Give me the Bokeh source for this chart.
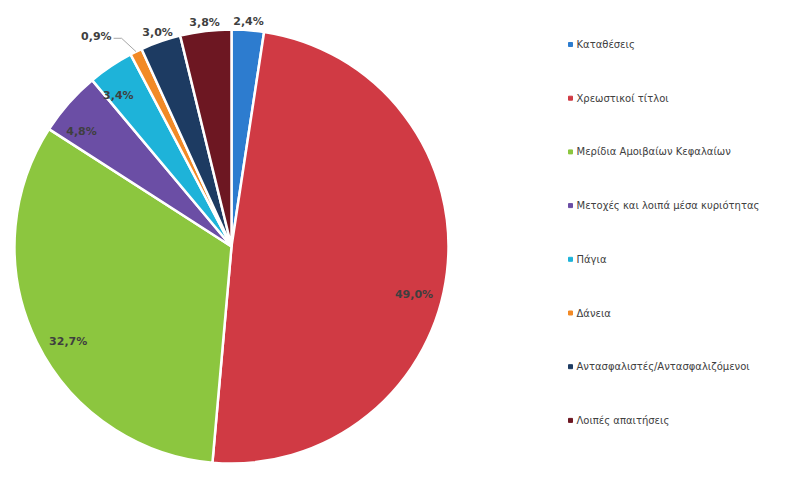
import math
from bokeh.plotting import figure
from bokeh.models import Range1d, ColumnDataSource
from bokeh.core.properties import value
from bokeh.embed import file_html
from bokeh.resources import INLINE

# ---- data ----
categories = [
    "Καταθέσεις",
    "Χρεωστικοί τίτλοι",
    "Μερίδια Αμοιβαίων Κεφαλαίων",
    "Μετοχές και λοιπά μέσα κυριότητας",
    "Πάγια",
    "Δάνεια",
    "Αντασφαλιστές/Αντασφαλιζόμενοι",
    "Λοιπές απαιτήσεις",
]
shares = [2.4, 49.0, 32.7, 4.8, 3.4, 0.9, 3.0, 3.8]
share_labels = ["2,4%", "49,0%", "32,7%", "4,8%", "3,4%", "0,9%", "3,0%", "3,8%"]

# ---- styles / layout ----
colors = ["#2D7CCF", "#D03A44", "#8CC63F", "#6B4EA5", "#1EB3D9", "#F28A26", "#1D3B62", "#6D1722"]
label_kind = ["out", "in", "in", "in", "in", "leader", "out", "out"]
label_nudge_deg = [0, 8, -4, -4, -3, -3.6, 0, 0]

W, H = 796, 470
CX, CY, R = 231, 224, 217

p = figure(width=W, height=H, output_backend="svg", toolbar_location=None,
           x_range=Range1d(0, W), y_range=Range1d(0, H),
           x_axis_type=None, y_axis_type=None, min_border=0)
p.grid.visible = False
p.outline_line_color = None
p.background_fill_color = "white"

total = sum(shares)
starts, ends, mids = [], [], []
c = 0.0
for v in shares:
    c0 = c / total
    c += v
    c1 = c / total
    starts.append(math.pi / 2 - 2 * math.pi * c0)
    ends.append(math.pi / 2 - 2 * math.pi * c1)
    mids.append(2 * math.pi * (c0 + c1) / 2)  # clockwise from top

src = ColumnDataSource(dict(x=[CX] * len(shares), y=[CY] * len(shares),
                            s=starts, e=ends, color=colors))
p.wedge(x="x", y="y", radius=R, start_angle="s", end_angle="e", direction="clock",
        fill_color="color", line_color="white", line_width=2.5, source=src)

lx, ly, lt, la = [], [], [], []
for i, lab in enumerate(share_labels):
    ang = mids[i] + math.radians(label_nudge_deg[i])
    if label_kind[i] == "in":
        r = 0.87 * R
        align = "center"
    elif label_kind[i] == "out":
        r = R + 9
        align = "center"
    else:
        r = R + 25
        align = "right"
    x = CX + r * math.sin(ang)
    y = CY + r * math.cos(ang)
    lx.append(x); ly.append(y); lt.append(lab); la.append(align)
    if label_kind[i] == "leader":
        ex = CX + R * math.sin(mids[i])
        ey = CY + R * math.cos(mids[i])
        p.line([x + 2, x + 10, ex], [y - 2, y - 2, ey], line_color="#A6A6A6", line_width=1)

p.text(x=lx, y=ly, text=lt, text_align=la, text_baseline="middle",
       text_font=value("DejaVu Sans"), text_font_style="bold", text_font_size="11px",
       text_color="#3F3F3F")

# ---- legend ----
leg_y = [H - (44 + i * 53.7) for i in range(len(categories))]
leg_mx = [570] * len(categories)
leg_tx = [576] * len(categories)
p.scatter(leg_mx, leg_y, marker="square", size=4, fill_color=colors, line_color=colors)
p.text(leg_tx, leg_y, text=categories, text_align="left", text_baseline="middle",
       text_font=value("DejaVu Sans"), text_font_size="10px", text_color="#404040")

open("out.html", "w").write(file_html(p, INLINE))
